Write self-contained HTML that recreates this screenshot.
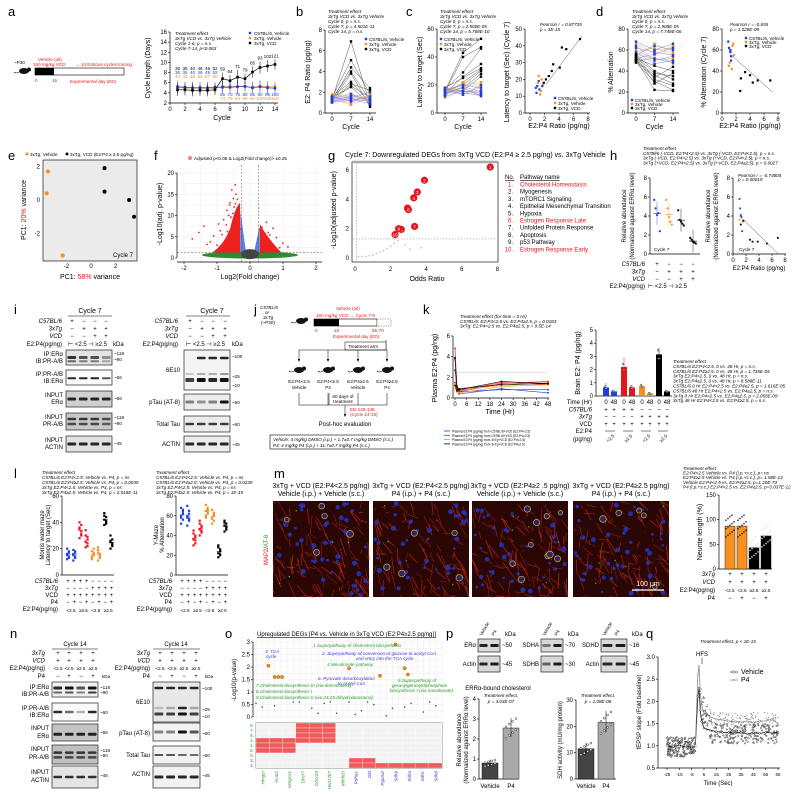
<!DOCTYPE html>
<html><head><meta charset="utf-8">
<style>
html,body{margin:0;padding:0;background:#fff;}
svg{display:block;font-family:"Liberation Sans",sans-serif;}
.pl{font-size:13px;}
.t5{font-size:4.6px;}
.t6{font-size:6px;}
.t7{font-size:7px;}
.it{font-style:italic;}
</style></head>
<body>
<svg id="fig" width="792" height="796" viewBox="0 0 792 796" xmlns="http://www.w3.org/2000/svg">
<rect width="792" height="796" fill="#fff"/>
<g class="pl">
<text x="8" y="16">a</text><text x="296" y="16">b</text><text x="406" y="16">c</text><text x="596" y="16">d</text>
<text x="8" y="160">e</text><text x="154" y="160">f</text><text x="328" y="160">g</text><text x="610" y="160">h</text>
<text x="14" y="314">i</text><text x="254" y="314">j</text><text x="423" y="314">k</text>
<text x="14" y="478">l</text><text x="274" y="478">m</text>
<text x="10" y="638">n</text><text x="225" y="638">o</text><text x="446" y="638">p</text><text x="646" y="638">q</text>
</g>
<g id="L"></g>
</svg>
<script>
// ===== DATA =====
const aCycles=[1,2,3,4,5,6,7,8,9,10,11,12,13,14];
const aC57=[5.2,5.1,5.0,5.0,5.0,5.1,5.1,5.1,5.2,5.3,5.0,5.2,5.0,4.9];
const aVeh=[5.0,5.0,4.9,4.9,4.8,4.9,5.3,5.2,5.3,5.2,5.1,5.3,5.2,5.2];
const aVCD=[4.6,4.6,4.5,4.5,4.5,4.6,6.8,6.4,7.1,6.8,8.1,9.0,9.3,9.6];
const aErr=[1.2,1.1,1.2,1.1,1.2,1.0,1.2,1.1,1.4,1.0,1.1,1.2,1.2,1.0];
const aTopLbl=["36","35","40","46","49","52","59","64","71","79","85","93","102","121"];
const aBotBlue=["65","70","75","80","85","90","95","100"];
const aBotOr=["74","79","84","89","94","100","106","110"];
const bCyc=[0,7,14];
const bBlue=[[1.2,1.4,1.1],[1.5,1.2,1.6],[1.0,1.7,1.3],[1.3,1.5,2.0],[1.6,1.1,1.4],[1.1,1.3,0.9],[1.4,1.8,1.2]];
const bOr=[[1.4,1.6,1.2],[1.2,1.0,1.8],[1.7,1.4,1.5],[1.0,1.2,1.7],[1.5,1.9,1.1],[1.3,0.8,1.4],[1.8,1.5,1.6]];
const bBlk=[[1.3,6.9,0.8],[1.5,5.1,1.8],[1.2,4.4,2.4],[1.4,4.0,1.2],[1.1,3.8,0.6],[1.6,3.0,1.0],[1.3,2.8,2.2],[1.2,2.6,1.5],[1.5,2.5,0.9]];
const cBlue=[[15,14,13],[17,20,18],[12,16,14],[18,13,20],[14,18,12],[16,15,16],[13,19,15]];
const cOr=[[16,18,14],[12,22,20],[18,15,12],[14,21,17],[17,13,19],[11,16,13],[15,20,22]];
const cBlk=[[16,43,53],[15,40,47],[17,29,46],[14,26,35],[18,25,32],[13,22,31],[16,20,30],[15,18,28],[17,16,26]];
const c2X=[0.9,1.0,1.2,1.3,1.1,1.5,1.6,1.8,0.8,1.4,1.7,1.2,2.6,3.0,3.2,4.1,4.4,5.0,6.9,1.9,2.2];
const c2Y=[12,16,19,14,18,13,20,17,15,11,16,22,22,25,29,27,39,38,44,18,20];
const c2G=[0,0,0,0,1,1,1,1,0,1,0,1,2,2,2,2,2,2,2,2,2];
const dBlue=[[62,58,55],[55,64,60],[50,52,48],[68,60,66],[58,47,50],[52,56,62],[64,50,54]];
const dOr=[[58,62,56],[48,55,64],[60,50,52],[54,66,58],[66,57,47],[50,60,62],[56,52,50]];
const dBlk=[[52,45,40],[56,40,32],[50,36,28],[55,32,26],[48,30,22],[53,28,38],[51,22,21],[49,34,44],[54,38,35]];
const d2X=[0.9,1.0,1.2,1.3,1.1,1.5,1.6,1.0,1.3,1.4,2.6,2.7,3.3,4.0,4.4,5.1,6.9,1.2,1.7];
const d2Y=[68,62,58,54,48,64,66,45,50,42,21,33,39,36,29,31,31,60,55];
const d2G=[0,0,0,0,1,1,1,1,0,1,2,2,2,2,2,2,2,0,1];
const ePC1=[-3.5,-3.6,-2.3,1.1,1.1,3.1,3.5];
const ePC2=[1.7,0.4,-3.3,1.9,0.5,0.0,-1.0];
const eGrp=[0,0,0,1,1,1,1];
const fFC=[-1.75,-1.55,-1.4,-1.2,-1.1,-0.95,-0.9,-0.8,-0.7,-0.65,-0.6,-0.55,-0.5,-0.48,-0.45,-0.42,-0.4,-0.38,-0.35,-0.33,-0.3,0.3,0.33,0.36,0.4,0.45,0.5,0.55,0.6,0.7,0.8,0.9,1.0,1.15,0.5,-0.75,-0.62,-0.52,-1.0,-0.85,-0.72,-0.58,-0.44,-0.9,-0.68,-1.3,0.42,0.65,0.38,-0.36];
const fP=[4.5,6.0,7.5,3.8,5.2,8.0,6.4,9.0,11.2,10.0,13.0,16.0,14.0,12.0,17.2,15.0,11.0,13.8,9.5,8.2,6.8,6.5,5.2,7.2,3.4,5.8,4.0,6.0,5.4,7.0,4.8,2.4,3.5,2.6,8.4,4.2,12.5,10.5,3.0,5.5,7.8,9.6,12.8,2.8,6.2,3.2,2.2,3.0,4.6,11.8];
const gOR=[7.6,3.9,3.5,3.3,2.95,3.0,3.35,2.6,2.45,2.25];
const gLP=[6.2,5.3,4.5,4.1,3.4,3.3,2.15,1.95,2.0,1.6];
const gGrayOR=[0.2,0.4,0.6,0.8,1.0,1.2,1.4,1.6,1.8,2.0,2.2,2.4,2.8,3.1,3.7];
const gGrayLP=[0.1,0.1,0.12,0.15,0.2,0.3,0.4,0.5,0.65,0.8,1.0,1.2,0.9,0.6,0.7];
const gNames=["Cholesterol Homeostasis","Myogenesis","mTORC1 Signaling","Epithelial Mesenchymal Transition","Hypoxia","Estrogen Response Late","Unfolded Protein Response","Apoptosis","p53 Pathway","Estrogen Response Early"];
const gRed=[1,0,0,0,0,1,0,0,0,1];
const hVals=[[5.7,4.8,4.1,4.3,2.4],[5.7,4.8,3.9,3.4,3.1],[4.6,3.6,3.4,3.2,3.0],[1.7,1.5,1.3,1.2,1.1]];
const h2X=[1.0,1.1,1.2,1.3,1.4,1.0,1.5,2.6,3.0,3.8,5.2,6.9,1.2,1.6];
const h2Y=[5.8,4.8,4.1,3.9,2.4,3.6,3.4,1.5,1.3,1.3,1.1,1.7,3.1,3.5];
const kT=[0,1,2,24,48];
const kLines=[[3.8,1.0,0.6,0.8,0.8],[2.7,0.8,0.4,0.9,0.5],[4.8,1.2,0.7,1.5,1.3],[1.5,0.9,0.6,1.4,1.6],[1.3,0.6,0.8,1.2,1.5],[0.9,0.7,0.5,1.1,1.3],[3.9,1.1,0.8,1.6,1.4],[1.2,0.7,0.9,1.3,1.4]];
const kLineGrp=[0,0,1,1,2,2,3,3];
const kBar=[0.65,0.35,2.2,0.65,0.75,0.2,3.15,0.35];
const kBarErr=[0.35,0.1,0.75,0.2,0.2,0.05,0.5,0.1];
const lLat=[[12,14,16,18,20,13,15,17],[11,13,15,17,19,14,16,18],[40,38,35,30,28,33,36,31],[34,29,25,22,21,27,30,24],[12,15,18,20,14,16,13,17],[11,14,19,16,21,15,17,13],[47,44,42,40,38,41,45,39],[30,27,25,22,20,24,26,23]];
const lAlt=[[68,64,60,56,52,62,58,66],[70,65,60,55,50,62,58,57],[45,40,36,32,30,38,42,35],[55,50,46,43,40,48,52,45],[71,68,65,62,58,64,60,66],[66,62,58,55,52,60,57,63],[30,26,22,20,18,24,28,21],[55,52,50,46,44,48,53,49]];
const lColor=["#1f3fdd","#1f3fdd","#e8141b","#e8141b","#f7901e","#f7901e","#000","#000"];
const mBar=[87,87,43,67];
const pChol=[0.8,2.55];
const pSDH=[11.5,21.5];
const qT=[-25,-20,-15,-10,-5,-2,0,1,2,3,5,10,15,20,25,30,35,40,45,50,55,60,65];
const qVeh=[1.0,0.98,1.02,0.97,1.0,1.0,2.1,2.3,1.8,1.55,1.4,1.35,1.32,1.3,1.3,1.28,1.3,1.27,1.3,1.28,1.3,1.29,1.3];
const qP4=[1.0,1.02,0.99,1.01,1.0,1.0,2.6,2.8,2.2,1.9,1.75,1.65,1.6,1.58,1.55,1.55,1.53,1.55,1.52,1.55,1.56,1.6,1.5];

// ===== helpers =====
const NS="http://www.w3.org/2000/svg";
const root=document.getElementById('L');
function mk(tag,a,p){const e=document.createElementNS(NS,tag);for(const k in a)e.setAttribute(k,a[k]);(p||root).appendChild(e);return e;}
function tx(x,y,s,cls,extra){const e=mk('text',Object.assign({x:x,y:y,class:cls||'t6'},extra||{}));e.textContent=s;return e;}
function lin(d0,d1,r0,r1){return v=>r0+(v-d0)/(d1-d0)*(r1-r0);}
function yAxis(x,ys,ticks,lbls,fs){const g=mk('g',{});
 
 
 mk('line',{x1:x,x2:x,y1:ys(ticks[ticks.length-1]),y2:ys(ticks[0]),stroke:'#000','stroke-width':0.7},g);
 ticks.forEach((t,i)=>{mk('line',{x1:x-2,x2:x,y1:ys(t),y2:ys(t),stroke:'#000','stroke-width':0.6},g);
 const e=tx(x-3,ys(t)+2,lbls?lbls[i]:String(t),fs||'t6',{'text-anchor':'end'});g.appendChild(e);});return g;}
function xAxis(y,xs,ticks,lbls,x0,x1,fs){const g=mk('g',{});
 
 
 mk('line',{x1:x0,x2:x1,y1:y,y2:y,stroke:'#000','stroke-width':0.7},g);
 ticks.forEach((t,i)=>{mk('line',{x1:xs(t),x2:xs(t),y1:y,y2:y+2,stroke:'#000','stroke-width':0.6},g);
 const e=tx(xs(t),y+8,lbls?lbls[i]:String(t),fs||'t6',{'text-anchor':'middle'});g.appendChild(e);});return g;}
function rot(x,y,s,cls,col){const e=tx(x,y,s,cls||'t6',{'text-anchor':'middle',transform:`rotate(-90 ${x} ${y})`,fill:col||'#000'});return e;}
function dot(x,y,r,f,nm){const c=mk('rect',{x:x-r,y:y-r,width:2*r,height:2*r,fill:f});
 
 return c;}
function circ(x,y,r,f,s,nm){const c=mk('circle',{cx:x,cy:y,r:r,fill:f,stroke:s||'none','stroke-width':0.4});
 
 return c;}
function lines(arr,x0,y0,sx,sy){arr.forEach((t,i)=>tx(x0,y0+i*sy,t,'t5 it'));}
function mouse(x,y,p){const g=mk('g',{},p);mk('ellipse',{cx:x,cy:y,rx:5,ry:3,fill:'#111'},g);mk('circle',{cx:x+5,cy:y-1.5,r:2,fill:'#111'},g);mk('path',{d:`M${x-5},${y+1} q-3,2 -5,0`,stroke:'#111',fill:'none','stroke-width':0.6},g);return g;}
const BL="#1f3fdd",OR="#f7901e",RD="#e8141b";
let seed=7;function rnd(){seed=(seed*16807)%2147483647;return seed/2147483647;}

// ===== a =====
(function(){
 const xs=lin(0,14,170,275), ys=lin(2,16,103,32);
 mk('rect',{x:35,y:68,width:89,height:7,fill:'#fff',stroke:'#000','stroke-width':0.6});
 mk('rect',{x:35,y:68,width:19,height:7,fill:'#000'});
 tx(14,64,'~P30','t5');mouse(24,71);
 tx(38,61,'Vehicle (oil)','t5',{fill:RD});tx(33,66,'160 mg/kg VCD','t5',{fill:RD});
 tx(75,66,'→ 14 Estrous cycles tracing','t5',{fill:RD});
 tx(35,82,'0','t5',{fill:RD});tx(52,82,'15','t5',{fill:RD});tx(70,83,'Experimental day (ED)','t5',{fill:RD});
 yAxis(170,ys,[2,4,6,8,10,12,14,16]);
 xAxis(103,xs,[0,2,4,6,8,10,12,14],null,170,278);
 tx(222,120,'Cycle','t7',{'text-anchor':'middle'});
 rot(150,68,'Cycle length (Days)','t7');
 lines(['Treatment effect','3xTg VCD vs. 3xTg Vehicle','Cycle 1-6, p = n.s.','Cycle 7-14, p<0.063'],175,35,0,5);
 dot(250,33,1.2,BL);tx(254,35,'C57BL/6, Vehicle','t5');
 dot(250,38,1.2,OR);tx(254,40,'3xTg, Vehicle','t5');
 dot(250,43,1.2,'#000');tx(254,45,'3xTg, VCD','t5');
 [[aVeh,OR],[aC57,BL],[aVCD,'#000']].forEach(([s,c])=>{
  const g=mk('g',{});
  mk('polyline',{points:aCycles.map((k,i)=>xs(k)+','+ys(s[i])).join(' '),fill:'none',stroke:c,'stroke-width':0.7},g);
  aCycles.forEach((k,i)=>{mk('line',{x1:xs(k),x2:xs(k),y1:ys(s[i]-aErr[i]),y2:ys(s[i]+aErr[i]),stroke:c,'stroke-width':0.5},g);
   dot(xs(k),ys(s[i]),1.3,c,'cycle-point');});
 });
 aCycles.forEach((k,i)=>{ if(i<6){tx(xs(k),70,aTopLbl[i],'t5',{'text-anchor':'middle'});tx(xs(k),74,aTopLbl[i],'t5',{'text-anchor':'middle',fill:BL});tx(xs(k),78,String(+aTopLbl[i]+8),'t5',{'text-anchor':'middle',fill:OR});}
  else tx(xs(k),ys(aVCD[i]+aErr[i])-2,aTopLbl[i],'t5',{'text-anchor':'middle'});});
 aBotBlue.forEach((t,i)=>{tx(xs(i+7),96,t,'t5',{'text-anchor':'middle',fill:BL});tx(xs(i+7),100,aBotOr[i],'t5',{'text-anchor':'middle',fill:OR});});
})();

function spag(ax,ys,xs,sets,ticks,lbl,yl){
 yAxis(ax,ys,ticks);
 xAxis(ys(ticks[0]),xs,bCyc,null,ax,xs(14)+6);
 tx(xs(7),129,'Cycle','t7',{'text-anchor':'middle'});
 rot(ax-15,72,yl,'t7');
 sets.forEach(([arr,c,lc])=>arr.forEach(r=>{
  const p=mk('polyline',{points:bCyc.map((k,i)=>xs(k)+','+ys(r[i])).join(' '),fill:'none',stroke:lc,'stroke-width':0.5});
  
  
  bCyc.forEach((k,i)=>dot(xs(k),ys(r[i]),1.2,c));}));
}
// ===== b =====
(function(){const ys=lin(0,8,113,30),xs=lin(0,14,332,370);
 spag(325,ys,xs,[[bBlk,'#000','#555'],[bOr,OR,'#f8b870'],[bBlue,BL,'#7d8ff0']],[0,2,4,6,8],null,'E2: P4 Ratio (pg/ng)');
 lines(['Treatment effect','3xTg VCD vs. 3xTg Vehicle','Cycle 0, p = n.s.','Cycle 7, p = 4.501E-11','Cycle 14, p = n.s.'],328,13,0,5);
 dot(366,39,1.2,BL);tx(369,41,'C57BL/6, Vehicle','t5');dot(366,44,1.2,OR);tx(369,46,'3xTg, Vehicle','t5');dot(366,49,1.2,'#000');tx(369,51,'3xTg, VCD','t5');
})();
// ===== c =====
(function(){const ys=lin(0,60,113,29),xs=lin(0,14,445,481);
 spag(437,ys,xs,[[cBlk,'#000','#555'],[cOr,OR,'#f8b870'],[cBlue,BL,'#7d8ff0']],[0,20,40,60],null,'Latency to target (Sec)');
 lines(['Treatment effect','3xTg VCD vs. 3xTg Vehicle','Cycle 0, p = n.s.','Cycle 7, p = 2.500E-05','Cycle 14, p = 5.768E-10'],440,13,0,5);
 dot(441,39,1.2,BL);tx(444,41,'C57BL/6, Vehicle','t5');dot(441,44,1.2,OR);tx(444,46,'3xTg, Vehicle','t5');dot(441,49,1.2,'#000');tx(444,51,'3xTg, VCD','t5');
 const x2=lin(0,8,530,588),y2=lin(0,50,113,29);
 yAxis(525,y2,[0,10,20,30,40,50]);xAxis(113,x2,[0,2,4,6,8],null,525,590);
 tx(559,128,'E2:P4 Ratio (pg/ng)','t7',{'text-anchor':'middle'});rot(509,72,'Latency to target (Sec) (Cycle 7)','t7');
 mk('line',{x1:x2(2.2),y1:y2(17),x2:x2(7.2),y2:y2(46),stroke:'#555','stroke-width':0.5});
 c2X.forEach((v,i)=>dot(x2(v),y2(c2Y[i]),1.1,[BL,OR,'#000'][c2G[i]]));
 tx(540,26,'Pearson r = 0.87735','t5 it');tx(540,31,'p = 3E-15','t5 it');
 dot(555,98,1.2,BL);tx(558,100,'C57BL/6, Vehicle','t5');dot(555,103,1.2,OR);tx(558,105,'3xTg, Vehicle','t5');dot(555,108,1.2,'#000');tx(558,110,'3xTg, VCD','t5');
})();
// ===== d =====
(function(){const ys=lin(0,80,113,29),xs=lin(0,14,636,673);
 spag(628,ys,xs,[[dOr,OR,'#f8b870'],[dBlue,BL,'#7d8ff0'],[dBlk,'#000','#555']],[0,20,40,60,80],null,'% Alternation');
 lines(['Treatment effect','3xTg VCD vs. 3xTg Vehicle','Cycle 0, p = n.s.','Cycle 7, p = 2.908E-05','Cycle 14, p = 7.748E-06'],632,13,0,5);
 dot(632,100,1.2,BL);tx(635,102,'C57BL/6, Vehicle','t5');dot(632,104,1.2,OR);tx(635,106,'3xTg, Vehicle','t5');dot(632,108,1.2,'#000');tx(635,110,'3xTg, VCD','t5');
 const x2=lin(0,8,722,778);
 yAxis(722,ys,[0,20,40,60,80]);xAxis(113,x2,[0,2,4,6,8],null,722,780);
 tx(750,128,'E2:P4 Ratio (pg/ng)','t7',{'text-anchor':'middle'});rot(706,72,'% Alternation (Cycle 7)','t7');
 mk('line',{x1:x2(1.2),y1:ys(56),x2:x2(7.2),y2:ys(20),stroke:'#555','stroke-width':0.5});
 d2X.forEach((v,i)=>dot(x2(v),ys(d2Y[i]),1.1,[BL,OR,'#000'][d2G[i]]));
 tx(730,26,'Pearson r = -0.655','t5 it');tx(730,31,'p = 1.028E-09','t5 it');
 dot(746,38,1.2,BL);tx(749,40,'C57BL/6, Vehicle','t5');dot(746,42,1.2,OR);tx(749,44,'3xTg, Vehicle','t5');dot(746,46,1.2,'#000');tx(749,48,'3xTg, VCD','t5');
})();
// ===== e =====
(function(){const xs=lin(0,1,91,103.3),ys=lin(0,1,200,183.2);
 const bg=mk('rect',{x:43,y:160,width:94,height:101,fill:'#ebebeb',stroke:'#333','stroke-width':0.8});
 
 
 [-2,0,2].forEach(v=>{tx(xs(v),268,String(v),'t6',{'text-anchor':'middle'});tx(40,ys(v)+2,String(v),'t6',{'text-anchor':'end'});});
 circ(27,154,1.5,OR);tx(30,156,'3xTg, Vehicle','t5');circ(67,154,1.5,'#000');tx(70,156,'3xTg, VCD (E2:P4 ≥ 2.5 pg/ng)','t5');
 ePC1.forEach((v,i)=>circ(xs(v),ys(ePC2[i]),2,eGrp[i]?'#000':OR,null,'pca-point'));
 const t=tx(90,279,'','t7',{'text-anchor':'middle'});t.innerHTML='PC1: <tspan fill="#e8141b">58%</tspan> variance';
 const r=rot(26,210,'','t7');r.innerHTML='PC1: <tspan fill="#e8141b">20%</tspan> variance';
 tx(133,257,'Cycle 7','t6',{'text-anchor':'end'});
})();
// ===== f =====
(function(){const xs=lin(0,1,250,283),ys=lin(0,1,258,253.75);
 mk('rect',{x:177,y:165,width:145,height:97,fill:'#fff'});
 for(let v=-2;v<=2;v+=0.5)mk('line',{x1:xs(v),x2:xs(v),y1:165,y2:262,stroke:'#ececec','stroke-width':0.5});
 for(let v=0;v<=20;v+=2.5)mk('line',{x1:177,x2:322,y1:ys(v),y2:ys(v),stroke:'#ececec','stroke-width':0.5});
 yAxis(177,ys,[0,5,10,15,20]);xAxis(262,xs,[-2,-1,0,1,2],null,177,322);
 tx(250,279,'Log2(Fold change)','t7',{'text-anchor':'middle'});rot(162,214,'-Log10(adj. p-value)','t7');
 circ(190,158,2,'#f08080');tx(194,160,'Adjusted p<0.05 & Log2(Fold change)> ±0.25','t5');
 mk('ellipse',{cx:xs(0),cy:ys(0.7),rx:48,ry:3.5,fill:'#2e8b2e'});
 mk('path',{d:`M${xs(-1.15)},${ys(1.3)} Q${xs(-0.8)},${ys(3)} ${xs(-0.6)},${ys(7)} Q${xs(-0.45)},${ys(12)} ${xs(-0.3)},${ys(13)} L${xs(-0.3)},${ys(1.3)} Z`,fill:'#ee2020'});
 mk('path',{d:`M${xs(0.3)},${ys(1.3)} L${xs(0.3)},${ys(8)} Q${xs(0.5)},${ys(5)} ${xs(0.95)},${ys(1.3)} Z`,fill:'#ee2020'});
 mk('path',{d:`M${xs(-0.3)},${ys(1.3)} L${xs(-0.29)},${ys(11)} L${xs(-0.12)},${ys(1.3)} Z M${xs(0.3)},${ys(1.3)} L${xs(0.29)},${ys(7.5)} L${xs(0.12)},${ys(1.3)} Z`,fill:'#5b7fe0'});
 mk('ellipse',{cx:xs(0),cy:ys(0.9),rx:9,ry:5,fill:'#444'});
 fFC.forEach((v,i)=>circ(xs(v),ys(fP[i]),0.9,'#ee2020',null,'deg-point'));
 [-0.25,0.25].forEach(v=>mk('line',{x1:xs(v),x2:xs(v),y1:165,y2:262,stroke:'#555','stroke-width':0.5,'stroke-dasharray':'2,1.5'}));
 mk('line',{x1:177,x2:322,y1:ys(1.3),y2:ys(1.3),stroke:'#555','stroke-width':0.5,'stroke-dasharray':'2,1.5'});
})();
// ===== g =====
(function(){const xs=lin(0,8,355,497.4),ys=lin(0,6,258,170);
 const b=mk('rect',{x:352,y:162,width:146,height:100,fill:'#fff',stroke:'#333','stroke-width':0.8});
 
 
 mk('line',{x1:352,x2:498,y1:162,y2:162,stroke:'#aaa','stroke-width':2.5});
 [0,2,4,6,8].forEach(v=>tx(xs(v),271,String(v),'t6',{'text-anchor':'middle'}));
 [0,2,4,6].forEach(v=>tx(349,ys(v)+2,String(v),'t6',{'text-anchor':'end'}));
 tx(427,281,'Odds Ratio','t7',{'text-anchor':'middle'});rot(336,210,'-Log10(adjusted p-value)','t7');
 tx(345,157,'Cycle 7: Downregulated DEGs from 3xTg VCD (E2:P4 ≥ 2.5 pg/ng) vs. 3xTg Vehicle','t7');
 mk('line',{x1:xs(0.1),x2:xs(0.1),y1:163,y2:261,stroke:'#888','stroke-width':0.5,'stroke-dasharray':'1.5,1.5'});
 mk('line',{x1:353,x2:497,y1:ys(1.3),y2:ys(1.3),stroke:'#888','stroke-width':0.5,'stroke-dasharray':'1.5,1.5'});
 gGrayOR.forEach((v,i)=>circ(xs(v),ys(gGrayLP[i]),0.8,'#bbb',null,'pathway-point-ns'));
 gOR.forEach((v,i)=>{circ(xs(v),ys(gLP[i]),3.6,RD,null,'pathway-point');tx(xs(v),ys(gLP[i])+2,String(i+1),'t5',{'text-anchor':'middle',fill:'#fff'});});
 tx(505,179,'No.','t6',{'text-decoration':'underline'});tx(520,179,'Pathway name','t6',{'text-decoration':'underline'});
 gNames.forEach((n,i)=>{tx(513,186.5+i*7.2,(i+1)+'.','t6',{'text-anchor':'end',fill:gRed[i]?RD:'#000'});tx(520,186.5+i*7.2,n,'t6',{fill:gRed[i]?RD:'#000'});});
})();
// ===== h =====
(function(){const ys=lin(0,8,254,178);const gx=[657,669,681,693];
 lines(['Treatment effect','C57Bl/6 (-VCD, E2:P4<2.5) vs. 3xTg (-VCD, E2:P4<2.5), p = n.s.','3xTg (-VCD, E2:P4<2.5) vs. 3xTg (+VCD, E2:P4<2.5), p = n.s.','3xTg (+VCD, E2:P4<2.5) vs. 3xTg (+VCD, E2:P4≥2.5), p = 0.0027'],643,150,0,4.8);
 yAxis(650,ys,[0,2,4,6,8]);mk('line',{x1:650,x2:700,y1:254,y2:254,stroke:'#000','stroke-width':0.7});
 rot(626,216,'Relative abundance','t6');rot(634,216,'(Normalized against ERRα level)','t6');
 const cols=[BL,OR,'#000','#000'];
 hVals.forEach((g,i)=>{const m=g.reduce((a,b)=>a+b)/g.length;
  mk('line',{x1:gx[i]-4,x2:gx[i]+4,y1:ys(m),y2:ys(m),stroke:cols[i],'stroke-width':0.6});
  mk('line',{x1:gx[i],x2:gx[i],y1:ys(m-1.2),y2:ys(m+1.2),stroke:cols[i],'stroke-width':0.4});
  g.forEach((v,j)=>circ(gx[i]+(j-2)*1.4,ys(v),1.1,cols[i],null,'sample-point'));});
 tx(654,251,'Cycle 7','t5');
 const x2=lin(0,8,733,785);yAxis(733,ys,[0,2,4,6,8]);xAxis(254,x2,[0,2,4,6,8],null,733,786);
 rot(710,216,'Relative abundance','t6');rot(718,216,'(Normalized against ERRα level)','t6');
 mk('line',{x1:x2(1),y1:ys(4),x2:x2(7),y2:ys(0),stroke:'#555','stroke-width':0.5});
 h2X.forEach((v,i)=>dot(x2(v),ys(h2Y[i]),0.9,i<5?BL:(i<7?OR:'#000')));
 tx(739,251,'Cycle 7','t5');tx(738,177,'Pearson r = -0.74805','t5 it');tx(738,181,'p = 0.00019','t5 it');
 tx(759,270,'E2:P4 Ratio (pg/ng)','t6',{'text-anchor':'middle'});
 const rows=[['C57BL/6',['+','−','−','−']],['3xTg',['−','+','+','+']],['VCD',['−','−','+','+']]];
 rows.forEach((r,k)=>{tx(645,266+k*7.5,r[0],'t6 it',{'text-anchor':'end'});r[1].forEach((s,i)=>tx(gx[i],266+k*7.5,s,'t6',{'text-anchor':'middle'}));});
 tx(645,288,'E2:P4(pg/ng)','t6',{'text-anchor':'end'});tx(648,288,'⊢ <2.5 ⊣ ≥2.5','t6');
})();
function blot(x,y,w,h,bands,nm,bg){const g=mk('g',{});
 
 
 mk('rect',{x:x,y:y,width:w,height:h,fill:bg||'#e4e4e4',stroke:'#222','stroke-width':0.7},g);
 bands.forEach(b=>{const n=b[1].length,lw=w/n;b[1].forEach((a,i)=>{if(a>0)mk('rect',{x:x+i*lw+lw*0.12,y:y+b[0]*h-b[2]/2,width:lw*0.76,height:b[2],rx:1,fill:'#111',opacity:a},g);});});
 return g;}
// ===== i =====
(function(){
 tx(90,313,'Cycle 7','t7',{'text-anchor':'middle'});mk('line',{x1:68,x2:112,y1:316,y2:316,stroke:'#000','stroke-width':0.6});
 tx(212,313,'Cycle 7','t7',{'text-anchor':'middle'});mk('line',{x1:186,x2:230,y1:316,y2:316,stroke:'#000','stroke-width':0.6});
 const rows=[['C57BL/6',['+','−','−','−']],['3xTg',['−','+','+','+']],['VCD',['−','−','+','+']]];
 [[62,[72,84,95,106]],[178,[190,202,213,225]]].forEach(([lx,vx])=>{
  rows.forEach((r,k)=>{tx(lx,323+k*7.5,r[0],'t6 it',{'text-anchor':'end'});r[1].forEach((s,i)=>tx(vx[i],323+k*7.5,s,'t6',{'text-anchor':'middle'}));});
  tx(lx,346,'E2:P4(pg/ng)','t6',{'text-anchor':'end'});tx(vx[0]-4,346,'⊢ <2.5 ⊣ ≥2.5','t6');tx(vx[3]+7,346,'kDa','t6');});
 blot(66,350,46,15,[[0.5,[0.85,0.7,0.7,0.4],3],[0.75,[0.6,0.5,0.5,0.3],2]],'blot-ip-era');
 blot(66,370,46,15,[[0.55,[0.9,0.9,0.9,0.7],2]],'blot-ip-pr','#fafafa');
 blot(66,391,46,16,[[0.5,[0.9,0.9,0.9,0.9],3]],'blot-input-era','#d0d0d0');
 blot(66,413,46,17,[[0.35,[0.8,0.8,0.8,0.7],2.5],[0.65,[0.7,0.7,0.7,0.6],2.5]],'blot-input-pr','#c8c8c8');
 blot(66,436,46,16,[[0.5,[0.9,0.9,0.9,0.9],3]],'blot-input-actin','#e0e0e0');
 [['IP:ERα',356],['IB:PR-A/B',363],['IP:PR-A/B',376],['IB:ERα',383],['INPUT',397],['ERα',404],['INPUT',419],['PR-A/B',426],['INPUT',442],['ACTIN',449]].forEach(([s,y])=>tx(63,y,s,'t6',{'text-anchor':'end'}));
 [['~118',355],['~90',361],['~66',379],['~66',400],['~118',419],['~90',425],['~45',445]].forEach(([s,y])=>tx(114,y,s,'t5'));
 blot(184,350,46,40,[[0.2,[0,0.9,0.9,0.9],2.5],[0.75,[0.8,1,0.9,1],4],[0.6,[0.2,0.3,0.3,0.4],2]],'blot-6e10','#f4f4f4');
 blot(184,394,46,16,[[0.5,[0.5,0.4,0.5,1],3]],'blot-ptau','#ececec');
 blot(184,416,46,16,[[0.5,[0.8,0.8,0.8,0.8],2.5]],'blot-total-tau','#ececec');
 blot(184,436,46,16,[[0.5,[0.9,0.9,0.9,0.9],3]],'blot-actin','#ececec');
 [['6E10',372],['pTau (AT-8)',404],['Total Tau',426],['ACTIN',446]].forEach(([s,y])=>tx(180,y,s,'t6',{'text-anchor':'end'}));
 [['~100',358],['~25',378],['~10',387],['~60',404],['~60',426],['~45',446]].forEach(([s,y])=>tx(232,y,s,'t5'));
})();
// ===== j =====
(function(){
 tx(260,309,'C57BL/6','t5 it');tx(265,314,'or','t5 it');tx(263,319,'3xTg','t5 it');tx(261,324,'(~P30)','t5');
 mouse(301,321);
 tx(336,310,'Vehicle (oil)','t5',{fill:RD});tx(316,317,'160 mg/kg VCD → Cycle 7-8','t5',{fill:RD});
 mk('rect',{x:314,y:319,width:63,height:7,fill:'#fff',stroke:'#000','stroke-width':0.6});
 mk('rect',{x:314,y:319,width:25,height:7,fill:'#000'});
 mk('rect',{x:377,y:319,width:14,height:7,fill:'#fff',stroke:'#555','stroke-width':0.5,'stroke-dasharray':'1.5,1'});
 tx(315,332,'0','t5',{fill:RD});tx(334,332,'15','t5',{fill:RD});tx(372,332,'65-70','t5',{fill:RD});
 tx(333,338,'Experimental day (ED)','t5',{fill:RD});
 mk('line',{x1:386,x2:386,y1:340,y2:350,stroke:'#000','stroke-width':0.5});
 mk('rect',{x:345,y:342,width:41,height:8,fill:'#fff',stroke:'#000','stroke-width':0.5});tx(348,348,'Treatment arm','t5');
 mk('line',{x1:299,x2:387,y1:350,y2:350,stroke:'#000','stroke-width':0.5});
 const ax=[299,328,358,387],l1=['E2:P4<2.5','E2:P4<2.5','E2:P4≥2.5','E2:P4≥2.5'],l2=['Vehicle','P4','Vehicle','P4'];
 ax.forEach((x,i)=>{mk('line',{x1:x,x2:x,y1:350,y2:361,stroke:'#000','stroke-width':0.5});mk('path',{d:`M${x-1.2},${359} L${x+1.2},${359} L${x},${362} Z`,fill:'#000'});
  mouse(x,370);tx(x,383,l1[i],'t5',{'text-anchor':'middle'});tx(x,389,l2[i],'t5',{'text-anchor':'middle'});
  mk('line',{x1:x,x2:x,y1:393,y2:405,stroke:'#000','stroke-width':0.5});});
 mk('line',{x1:299,x2:387,y1:405,y2:405,stroke:'#000','stroke-width':0.5});
 mk('line',{x1:329,x2:329,y1:393,y2:405,stroke:'#000','stroke-width':0.5});
 tx(343,398,'60 days of','t5',{'text-anchor':'middle'});tx(343,403,'treatment','t5',{'text-anchor':'middle'});
 mk('line',{x1:345,x2:345,y1:405,y2:416,stroke:'#000','stroke-width':0.5});mk('path',{d:'M343.8,414 L346.2,414 L345,417 Z',fill:'#000'});
 tx(350,411,'ED 120-138','t5',{fill:RD});tx(350,416,'(Cycle 14-15)','t5',{fill:RD});
 tx(345,426,'Post-hoc evaluation','t6',{'text-anchor':'middle'});
 mk('rect',{x:270,y:435,width:135,height:14,fill:'#fff',stroke:'#000','stroke-width':0.6});
 tx(273,441,'Vehicle: 4 mg/kg DMSO (i.p.) + 1.7±0.7 mg/kg DMSO (s.c.)','t5 it');tx(273,447,'P4: 4 mg/kg P4 (i.p.) + 11.7±0.7 mg/kg P4 (s.c.)','t5 it');
})();
// ===== k =====
(function(){const xs=lin(0,48,455,548),ys=lin(0,6,398,336);
 lines(['Treatment effect (for time = 0 Hr)','C57BL/6: E2:P4<2.5 vs. E2:P4≥2.5, p = 0.0183','3xTg: E2:P4<2.5 vs. E2:P4≥2.5, p = 9.5E-14'],460,318,0,4.8);
 yAxis(453,ys,[0,2,4,6]);xAxis(398,xs,[0,6,12,18,24,30,36,42,48],null,453,549);
 tx(500,414,'Time (Hr)','t7',{'text-anchor':'middle'});rot(437,368,'Plasma E2:P4 (pg/ng)','t7');
 mk('line',{x1:455,x2:548,y1:ys(2.5),y2:ys(2.5),stroke:'#999','stroke-width':0.5,'stroke-dasharray':'1.5,1'});
 const kc=[BL,RD,OR,'#000'];
 kLines.forEach((r,j)=>{const p=mk('polyline',{points:kT.map((t,i)=>xs(t)+','+ys(r[i])).join(' '),fill:'none',stroke:kc[kLineGrp[j]],'stroke-width':0.6});
  
  
  kT.forEach((t,i)=>dot(xs(t),ys(r[i]),0.8,kc[kLineGrp[j]]));});
 ['Plasma E2:P4 (pg/ng) from C57BL/6+VCD (E2:P4<2.5)','Plasma E2:P4 (pg/ng) from C57BL/6+VCD (E2:P4≥2.5)','Plasma E2:P4 (pg/ng) from 3xTg+VCD (E2:P4<2.5)','Plasma E2:P4 (pg/ng) from 3xTg+VCD (E2:P4≥2.5)'].forEach((s,i)=>{mk('line',{x1:444,x2:450,y1:431+i*4.3,y2:431+i*4.3,stroke:kc[i],'stroke-width':0.8});tx(452,432.5+i*4.3,s,'t5',{style:'font-size:3.2px'});});
 const ys2=lin(0,5,396,330),bx=[606,614,624,632,642,650,659,667],bc=[BL,BL,RD,RD,OR,OR,'#000','#000'];
 yAxis(596,ys2,[0,1,2,3,4,5]);mk('line',{x1:596,x2:672,y1:396,y2:396,stroke:'#000','stroke-width':0.7});
 rot(580,363,'Brain E2: P4 (pg/ng)','t7');
 kBar.forEach((v,i)=>{const r=mk('rect',{x:bx[i]-3,y:ys2(v),width:6,height:396-ys2(v),fill:bc[i]});
  
  
  mk('line',{x1:bx[i],x2:bx[i],y1:ys2(v),y2:ys2(v+kBarErr[i]),stroke:bc[i],'stroke-width':0.5});
  circ(bx[i],ys2(v*0.9),0.9,'#fff','#000');circ(bx[i]-1,ys2(v*1.1),0.9,'#fff','#000');});
 const rows=[['Time (Hr)',['0','48','0','48','0','48','0','48'],''],['C57BL/6',['+','+','+','+','−','−','−','−'],'it'],['3xTg',['−','−','−','−','+','+','+','+'],'it'],['VCD',['+','+','+','+','+','+','+','+'],'']];
 rows.forEach((r,k)=>{tx(592,404+k*7.3,r[0],'t6 '+r[2],{'text-anchor':'end'});r[1].forEach((s,i)=>tx(bx[i],404+k*7.3,s,'t6',{'text-anchor':'middle'}));});
 tx(592,433,'E2:P4','t6',{'text-anchor':'end'});tx(592,441,'(pg/ng)','t6',{'text-anchor':'end'});
 ['<2.5','≥2.5','<2.5','≥2.5'].forEach((s,i)=>{const x=(bx[2*i]+bx[2*i+1])/2;mk('line',{x1:x-5,x2:x+5,y1:431,y2:431,stroke:'#000','stroke-width':0.5});tx(x,440,s,'t5',{'text-anchor':'middle',transform:`rotate(-45 ${x} 438)`});});
 lines(['Treatment effect','C57BL/6 E2:P4<2.5, 0 vs. 48 Hr, p = n.s.','C57BL/6 E2:P4≥2.5, 0 vs. 48 Hr, p = 1.735E-05','3xTg E2:P4<2.5, 0 vs. 48 Hr, p = n.s.','3xTg E2:P4≥2.5, 0 vs. 48 Hr, p = 8.588E-11','C57BL/6 0 Hr E2:P4<2.5 vs. E2:P4≥2.5, p = 1.616E-05','C57BL/6 48 Hr E2:P4<2.5 vs. E2:P4≥2.5, p = n.s.','3xTg 0 Hr E2:P4<2.5 vs. E2:P4≥2.5, p = 2.058E-09','3xTg 48 Hr E2:P4<2.5 vs. E2:P4≥2.5, p = n.s.'],673,363,0,4.9);
})();
// ===== l =====
(function(){
 [[62,lLat,lin(0,60,575,496),[0,20,40,60],'Morris water maze','Latency to target (Sec)',['Treatment effect','C57BL/6 E2:P4<2.5: Vehicle vs. P4, p = ns','C57BL/6 E2:P4≥2.5: Vehicle vs. P4, p = 0.0039','3xTg E2:P4<2.5: Vehicle vs. P4, p = ns','3xTg E2:P4≥2.5: Vehicle vs. P4, p = 2.518E-11']],
  [176,lAlt,lin(0,80,575,496),[0,20,40,60,80],'Y-Maze','% Alternation',['Treatment effect','C57BL/6 E2:P4<2.5: Vehicle vs. P4, p = ns','C57BL/6 E2:P4≥2.5: Vehicle vs. P4, p = 0.0239','3xTg E2:P4<2.5: Vehicle vs. P4, p = ns','3xTg E2:P4≥2.5: Vehicle vs. P4, p = 1E-15']]].forEach(([ax,data,ys,ticks,t1,t2,txt])=>{
  lines(txt,ax-20,474,0,5);
  yAxis(ax,ys,ticks);mk('line',{x1:ax,x2:ax+52,y1:575,y2:575,stroke:'#000','stroke-width':0.7});
  rot(ax-18,535,t1,'t6');rot(ax-12,535,t2,'t6');
  data.forEach((g,i)=>{const m=g.reduce((a,b)=>a+b)/g.length,x=ax+6+i*6.2;
   mk('line',{x1:x-2.5,x2:x+2.5,y1:ys(m),y2:ys(m),stroke:lColor[i],'stroke-width':0.6});
   g.forEach((v,j)=>dot(x+(j%2?0.9:-0.9),ys(v),1.1,lColor[i],'behavior-point'));});
  const rows=[['C57BL/6','++++−−−−','it'],['3xTg','−−−−++++','it'],['VCD','++++++++',''],['P4','−+−+−+−+','']];
  rows.forEach((r,k)=>{tx(ax-4,583+k*7,r[0],'t6 '+r[2],{'text-anchor':'end'});[...r[1]].forEach((s,i)=>tx(ax+6+i*6.2,583+k*7,s,'t6',{'text-anchor':'middle'}));});
  tx(ax-4,611,'E2:P4(pg/ng)','t6',{'text-anchor':'end'});
  ['<2.5','≥2.5','<2.5','≥2.5'].forEach((s,i)=>tx(ax+9+i*12.4,612,s,'t5',{'text-anchor':'middle'}));
 });
})();
// ===== m =====
(function(){
 const ix=[273,373,472,573],t1=['3xTg + VCD (E2:P4<2.5 pg/ng)','3xTg + VCD (E2:P4<2.5 pg/ng)','3xTg + VCD (E2:P4≥2 .5 pg/ng)','3xTg + VCD (E2:P4≥2.5 pg/ng)'],t2=['Vehicle (i.p.) + Vehicle (s.c.)','P4 (i.p.) + P4 (s.c.)','Vehicle (i.p.) + Vehicle (s.c.)','P4 (i.p.) + P4 (s.c.)'];
 ix.forEach((x,k)=>{tx(x+48,488,t1[k],'t7',{'text-anchor':'middle'});tx(x+48,496,t2[k],'t7',{'text-anchor':'middle'});
  const g=mk('g',{});
  
  
  mk('rect',{x:x,y:501,width:96,height:96,fill:'#2a0605'},g);
  for(let i=0;i<110;i++){const a=x+rnd()*96,b=501+rnd()*96,dx=(rnd()-0.2)*14,dy=rnd()*18;mk('line',{x1:a,y1:b,x2:Math.min(x+96,Math.max(x,a+dx)),y2:Math.min(597,b+dy),stroke:'#b8281a','stroke-width':0.5+rnd()*0.5,opacity:0.75},g);}
  for(let i=0;i<40;i++)mk('circle',{cx:x+2+rnd()*92,cy:503+rnd()*92,r:1.2+rnd()*1.4,fill:'#2434b8',opacity:0.9},g);
  for(let i=0;i<(k==2?10:5);i++)mk('circle',{cx:x+5+rnd()*86,cy:505+rnd()*86,r:2.2+rnd()*1.2,fill:'#302070',stroke:'#c8b828','stroke-width':0.7},g);
  for(let i=0;i<5;i++)mk('circle',{cx:x+5+rnd()*86,cy:505+rnd()*86,r:0.7,fill:'#3c3'},g);
 });
 mk('line',{x1:632,x2:664,y1:590,y2:590,stroke:'#fff','stroke-width':1.3});tx(648,586,'100 μm','t7',{'text-anchor':'middle',fill:'#fff'});
 const r=rot(268,550,'','t6');r.innerHTML='<tspan fill="#e8141b">MAP2</tspan>/<tspan fill="#2ca02c">AT-8</tspan>';
 lines(['Treatment effect','E2:P4<2.5 Vehicle vs. P4 (i.p.+s.c.), p= ns','E2:P4≥2.5 Vehicle vs. P4 (i.p.+s.c.), p= 1.58E-13','Vehicle E2:P4<2.5 vs. E2:P4≥2.5, p=1.20E-73','P4 (i.p.+s.c.) E2:P4<2.5 vs. E2:P4≥2.5, p=3.037E-12'],683,470,0,4.6);
 const ys=lin(0,150,569,495),bx=[730,742,754,766],bc=[OR,OR,'#000','#000'];
 yAxis(719,ys,[0,50,100,150]);mk('line',{x1:719,x2:772,y1:569,y2:569,stroke:'#000','stroke-width':0.7});
 rot(702,532,'Neurite length (%)','t7');
 mBar.forEach((v,i)=>{const b=mk('rect',{x:bx[i]-5,y:ys(v),width:10,height:569-ys(v),fill:bc[i],stroke:'#000','stroke-width':0.4});
  
  
  for(let j=0;j<14;j++)circ(bx[i]-4+(j%5)*2,ys(v-22+j*3.4),0.8,bc[i]=='#000'?'#ddd':'#222');});
 [['3xTg','++++','it'],['VCD','++++','it'],['P4','−+−+','']].forEach((r,k)=>{const y=[576,584,600][k];tx(715,y,r[0],'t6 '+r[2],{'text-anchor':'end'});[...r[1]].forEach((s,i)=>tx(bx[i],y,s,'t6',{'text-anchor':'middle'}));});
 tx(715,592,'E2:P4(pg/ng)','t6',{'text-anchor':'end'});['<2.5','<2.5','≥2.5','≥2.5'].forEach((s,i)=>tx(bx[i],592,s,'t5',{'text-anchor':'middle'}));
})();
// ===== n =====
(function(){
 tx(75,646,'Cycle 14','t6',{'text-anchor':'middle'});mk('line',{x1:52,x2:98,y1:649,y2:649,stroke:'#000','stroke-width':0.6});
 tx(176,646,'Cycle 14','t6',{'text-anchor':'middle'});mk('line',{x1:153,x2:200,y1:649,y2:649,stroke:'#000','stroke-width':0.6});
 [[45,[58,69,81,93]],[150,[160,172,184,196]]].forEach(([lx,vx])=>{
  [['3xTg','++++','it'],['VCD','++++','it']].forEach((r,k)=>{tx(lx,655+k*7.5,r[0],'t6 '+r[2],{'text-anchor':'end'});[...r[1]].forEach((s,i)=>tx(vx[i],655+k*7.5,s,'t6',{'text-anchor':'middle'}));});
  tx(lx,670,'E2:P4(pg/ng)','t6',{'text-anchor':'end'});['<2.5','<2.5','≥2.5','≥2.5'].forEach((s,i)=>tx(vx[i],670,s,'t5',{'text-anchor':'middle'}));
  tx(lx,678,'P4','t6',{'text-anchor':'end'});['−','+','−','+'].forEach((s,i)=>tx(vx[i],678,s,'t6',{'text-anchor':'middle'}));tx(vx[3]+9,678,'kDa','t5');});
 blot(52,682,46,15,[[0.4,[0.9,1,0.7,1],3],[0.7,[0.6,0.7,0.5,0.8],2]],'blot-n-ip-era','#f0f0f0');
 blot(52,703,46,18,[[0.5,[0.9,0.6,0.3,0.9],2.5]],'blot-n-ip-pr','#fafafa');
 blot(52,724,46,17,[[0.6,[0.9,0.9,0.9,0.9],3]],'blot-n-input-era','#c4c4c4');
 blot(52,745,46,19,[[0.4,[0.8,0.8,0.8,0.8],2.5],[0.65,[0.7,0.7,0.7,0.7],2.5]],'blot-n-input-pr','#c0c0c0');
 blot(52,766,46,22,[[0.5,[0.85,0.85,0.85,0.85],2.5]],'blot-n-actin','#e4e4e4');
 [['IP:ERα',689],['IB:PR-A/B',696],['IP:PR-A/B',710],['IB:ERα',717],['INPUT',730],['ERα',738],['INPUT',751],['PR-A/B',759],['INPUT',774],['ACTIN',782]].forEach(([s,y])=>tx(49,y,s,'t6',{'text-anchor':'end'}));
 [['~118',689],['~90',694],['~60',714],['~66',734],['~118',752],['~90',757],['~45',777]].forEach(([s,y])=>tx(100,y,s,'t5'));
 blot(153,682,47,40,[[0.15,[0.9,0.9,0.9,0.9],2.5],[0.65,[0.2,0.3,0.9,0.3],2.5],[0.8,[0.8,0.8,1,0.8],3]],'blot-n-6e10','#e8e8e8');
 blot(153,723,47,18,[[0.5,[0.5,0.5,1,0.7],3]],'blot-n-ptau','#f2f2f2');
 blot(153,746,47,18,[[0.5,[0.7,0.7,0.6,0.6],2]],'blot-n-total-tau','#f2f2f2');
 blot(153,766,47,22,[[0.5,[0.9,0.9,0.9,0.9],3]],'blot-n-actin-2','#f2f2f2');
 [['6E10',704],['pTau (AT-8)',735],['Total Tau',757],['ACTIN',776]].forEach(([s,y])=>tx(150,y,s,'t6',{'text-anchor':'end'}));
 [['~100',690],['~25',711],['~10',718],['~60',735],['~60',757],['~45',777]].forEach(([s,y])=>tx(202,y,s,'t5'));
})();
// ===== o =====
(function(){
 tx(257,636,'Upregulated DEGs [P4 vs. Vehicle in 3xTg VCD (E2:P4≥2.5 pg/ng)]','t6',{'text-decoration':'underline'});
 const ys=lin(0,3,717,642),xs=lin(0,30,256,442);
 for(let i=0;i<=30;i++)mk('line',{x1:xs(i),x2:xs(i),y1:640,y2:718,stroke:'#e6e6e6','stroke-width':0.4});
 for(let v=0;v<=3;v+=0.25)mk('line',{x1:253,x2:442,y1:ys(v),y2:ys(v),stroke:'#e6e6e6','stroke-width':0.4});
 yAxis(253,ys,[0,0.5,1,1.5,2,2.5,3],['0','0.5','1','1.5','2','2.5','3']);rot(236,680,'-Log10(p-value)','t6');
 const bxs=[0,1,3,6,7,9,10,11,12,13,15,16,17,18,19,21,22,24,25,27,28,29];
 const bys=[0.55,0.4,0.45,0.6,0.6,0.35,0.15,0.55,0.6,0.15,0.6,0.1,0.25,0.6,0.5,0.05,0.35,0.4,0.55,0.2,0.6,0.45];
 bxs.forEach((v,i)=>circ(xs(v),ys(bys[i]),0.8,'#1f4f7f',null,'pathway-point'));
 const ox=[2,3,3.6,4.2,15,20,22.5,24,24.5],oy=[2.05,1.6,1.6,1.6,1.95,1.65,2.9,1.95,1.7];
 ox.forEach((v,i)=>circ(xs(v),ys(oy[i]),1.6,OR,'#7a3b00','enriched-pathway'));
 tx(265,653,'3. TCA','t5 it',{fill:'#3a3ae0'});tx(266,658,'cycle','t5 it',{fill:'#3a3ae0'});
 tx(313,647,'1.Superpathway of cholesterol biosynthesis','t5 it',{fill:'#2a9a2a'});
 tx(322,655,'2. Superpathway of conversion of glucose to acetyl CoA','t5 it',{fill:'#3a3ae0'});tx(356,660,'and entry into the TCA cycle','t5 it',{fill:'#3a3ae0'});
 tx(327,666,'4.Mevalonate pathway','t5 it',{fill:'#2a9a2a'});
 tx(318,680,'6. Pyruvate decarboxylation','t5 it',{fill:'#3a3ae0'});tx(338,685,'to acetyl CoA','t5 it',{fill:'#3a3ae0'});
 tx(398,682,'5.Superpathway of','t5 it',{fill:'#2a9a2a'});tx(392,687,'geranylgeranyldiphosphate','t5 it',{fill:'#2a9a2a'});tx(390,692,'biosynthesis I (via mevalonate)','t5 it',{fill:'#2a9a2a'});
 tx(256,687,'7.Cholesterol biosynthesis III (via desmosterol)','t5 it',{fill:'#2a9a2a'});tx(256,693,'8.Cholesterol biosynthesis I','t5 it',{fill:'#2a9a2a'});tx(256,699,'9.Cholesterol biosynthesis II (via 24,25-dihydrolanosterol)','t5 it',{fill:'#2a9a2a'});
 const genes=['Hmgcr','Acat1','Hmgcs1','Dhcr7','Dhcr24','Hsd17b7','Mthfd1l','Pdha1','Dld','Pgam2','Sdhb','Sdha','Sdhc','Sdhd'];
 const geneCol=['#2a9a2a','#2a9a2a','#2a9a2a','#2a9a2a','#2a9a2a','#2a9a2a','#2a9a2a','#3a3ae0','#3a3ae0','#3a3ae0','#3a3ae0','#3a3ae0','#3a3ae0','#3a3ae0'];
 const rowsL=['9.','7.','8.','1.','4.','6.','5.','3.','2.'];
 const hm=[[0,0,0,1,1,1,0,0,0,0,0,0,0,0],[0,0,0,1,1,1,0,0,0,0,0,0,0,0],[0,0,0,1,1,1,0,0,0,0,0,0,0,0],[1,1,1,1,1,1,0,0,0,0,0,0,0,0],[1,1,1,0,0,0,0,0,0,0,0,0,0,0],[1,1,1,0,0,0,0,0,0,0,0,0,0,0],[0,0,0,0,0,0,0,0,0,0,0,0,0,0],[0,0,0,0,0,0,0,1,1,0,0,0,0,0],[0,0,0,0,0,0,0,1,1,1,1,1,1,1]];
 const hx=256,hy=723,cw=186/14,ch=45/9;
 mk('rect',{x:hx,y:hy,width:186,height:45,fill:'#f2f2f2',stroke:'#333','stroke-width':0.8});
 hm.forEach((r,i)=>r.forEach((v,j)=>{const c=mk('rect',{x:hx+j*cw,y:hy+i*ch,width:cw,height:ch,fill:v?'#f05a5a':'#f2f2f2',stroke:'#fff','stroke-width':0.3});
  
  }));
 rowsL.forEach((s,i)=>tx(254,hy+i*ch+4,s,'t5',{'text-anchor':'end',fill:i<7?'#2a9a2a':'#3a3ae0'}));
 genes.forEach((g,j)=>{const x=hx+j*cw+cw/2+2;tx(x,771,g,'t5 it',{'text-anchor':'end',fill:geneCol[j],transform:`rotate(-90 ${x} 771)`});});
})();
// ===== p =====
(function(){
 [[478,'ERα','~50','Actin','~45'],[541,'SDHA','~70','SDHB','~30'],[601,'SDHD','~16','Actin','~45']].forEach(([x,a,ak,b,bk],k)=>{
  const w=k==2?26:22;
  tx(x+4,636,'Vehicle','t5',{transform:`rotate(-60 ${x+4} 636)`});tx(x+16,636,'P4','t5',{transform:`rotate(-60 ${x+16} 636)`});tx(x+w+5,636,'kDa','t6');
  blot(x,639,w,13,[[0.5,[k==1?0.5:0.9,0.95],3]],'blot-p-'+a.toLowerCase(),'#d8d8d8');
  blot(x,656,w,16,[[0.5,[k==1?0.6:0.9,0.95],3]],'blot-p-'+b.toLowerCase(),'#d8d8d8');
  tx(x-2,647,a,'t6',{'text-anchor':'end'});tx(x-2,666,b,'t6',{'text-anchor':'end'});tx(x+w+2,647,ak,'t6');tx(x+w+2,666,bk,'t6');});
 tx(498,690,'ERRα-bound cholesterol','t6',{'text-anchor':'middle'});
 const cols=['#444','#aaa'];
 [[479,pChol,lin(0,4,779,699),[0,1,2,3,4],[490,511],'Treatment effect,','p = 3.04E-07',['Relative abundance','(Normalized against ERRα level)']],[576,pSDH,lin(0,30,779,700),[0,10,20,30],[586,606],'Treatment effect,','p = 2.08E-08',['SDH activity (mU/mg protein)']]].forEach(([ax,vals,ys,ticks,bx,t1,t2,yl])=>{
  yAxis(ax,ys,ticks);mk('line',{x1:ax,x2:ax+40,y1:779,y2:779,stroke:'#000','stroke-width':0.7});
  tx(ax+22,697,t1,'t5 it',{'text-anchor':'middle'});tx(ax+22,703,t2,'t5 it',{'text-anchor':'middle'});
  yl.forEach((s,i)=>rot(ax-18+i*7-(yl.length==1?-4:0),740,s,'t6'));
  vals.forEach((v,i)=>{const b=mk('rect',{x:bx[i]-8,y:ys(v),width:16,height:779-ys(v),fill:cols[i],stroke:'#000','stroke-width':0.4});
   
   
   mk('line',{x1:bx[i],x2:bx[i],y1:ys(v*0.82),y2:ys(v*1.2),stroke:'#000','stroke-width':0.5});
   for(let j=0;j<8;j++)circ(bx[i]-5+(j%4)*3.3,ys(v*(0.8+j*0.055)),1,'#fff','#000');
   tx(bx[i],788,['Vehicle','P4'][i],'t6',{'text-anchor':'middle'});});
 });
})();
// ===== q =====
(function(){const xs=lin(-25,65,667,778),ys=lin(0.5,3,768,657);
 tx(728,643,'Treatment effect, p < 1E-15','t5 it',{'text-anchor':'middle'});
 yAxis(658,ys,[0.5,1,1.5,2,2.5,3],['0.5','1.0','1.5','2.0','2.5','3.0']);
 xAxis(768,xs,[-25,-15,-5,5,15,25,35,45,55,65],null,658,780,'t5');
 tx(718,785,'Time (Sec)','t6',{'text-anchor':'middle'});rot(641,712,'fEPSP slope (Fold baseline)','t6');
 tx(702,656,'HFS','t6',{'text-anchor':'middle'});mk('line',{x1:702,x2:702,y1:658,y2:664,stroke:'#000','stroke-width':0.5});
 // noisy texture of individual sweeps
 for(let i=0;i<180;i++){const t=-25+rnd()*23;circ(xs(t),ys(0.75+rnd()*0.45),0.7,'#fff','#000','sweep-point');}
 for(let i=0;i<220;i++){const t=3+rnd()*62;const base=1.05+rnd()*0.45;circ(xs(t),ys(base+(t<12?0.5*(12-t)/9:0)),0.7,'#fff','#000','sweep-point');}
 for(let i=0;i<150;i++){const t=3+rnd()*62;const base=1.4+rnd()*0.35;circ(xs(t),ys(base+(t<12?0.6*(12-t)/9:0)),0.6,'#888','none','sweep-point');}
 [[qVeh,'#000','vehicle-trace'],[qP4,'#777','p4-trace']].forEach(([s,c,nm])=>{
  const p=mk('polyline',{points:qT.map((t,i)=>xs(t)+','+ys(s[i])).join(' '),fill:'none',stroke:c,'stroke-width':0.7});
  
  
  qT.forEach((t,i)=>circ(xs(t),ys(s[i]),0.9,'#fff',c));});
 mk('rect',{x:727,y:667,width:48,height:18,fill:'#fff'});
 mk('line',{x1:730,x2:738,y1:672,y2:672,stroke:'#000','stroke-width':0.6});circ(734,672,1.2,'#fff','#000');tx(741,674,'Vehicle','t7');
 mk('line',{x1:730,x2:738,y1:680,y2:680,stroke:'#777','stroke-width':0.6});circ(734,680,0.8,'#777');tx(741,682,'P4','t7');
})();
</script>
</body></html>
